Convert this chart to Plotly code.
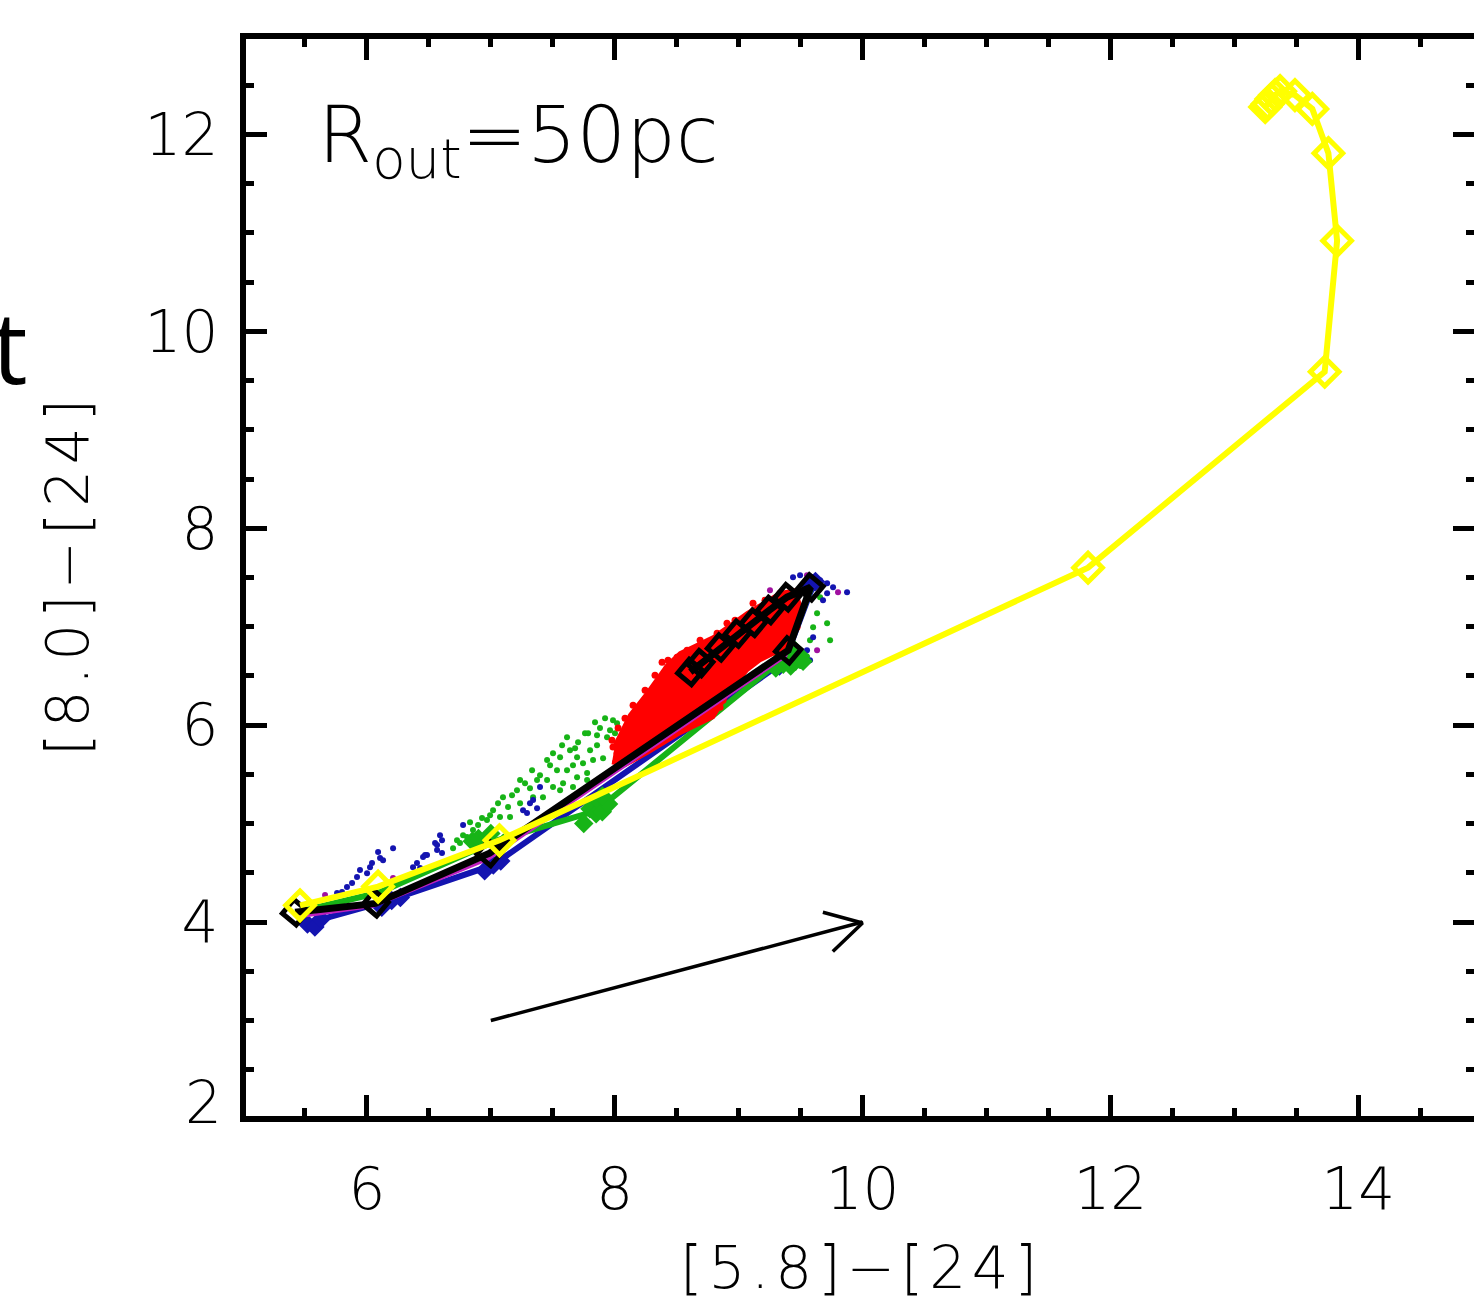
import plotly.graph_objects as go

# ---------------- data ----------------
yellow_x = [5.46, 6.09, 7.07, 11.82, 13.73, 13.83, 13.76, 13.63, 13.49, 13.37, 13.33, 13.30, 13.27, 13.25]
yellow_y = [4.17, 4.36, 4.83, 7.60, 9.59, 10.92, 11.81, 12.26, 12.40, 12.44, 12.40, 12.36, 12.31, 12.28]

black_x = [5.42, 6.07, 6.99, 9.40, 9.58, 9.39, 9.25, 9.12, 8.99, 8.85, 8.69, 8.61]
black_y = [4.10, 4.19, 4.70, 6.76, 7.40, 7.30, 7.17, 7.04, 6.93, 6.79, 6.63, 6.54]

blue_x = [5.55, 6.18, 7.02, 9.37, 9.60]
blue_y = [4.00, 4.22, 4.58, 6.65, 7.42]
blue_mx = [5.52, 5.58, 5.63, 6.12, 6.20, 6.27, 6.95, 7.02, 7.08, 9.33, 9.38, 9.58, 9.62]
blue_my = [3.98, 3.95, 4.03, 4.15, 4.22, 4.25, 4.52, 4.58, 4.62, 6.60, 6.66, 7.42, 7.46]

green_x = [5.50, 6.10, 7.05, 7.85, 9.38, 9.58]
green_y = [4.12, 4.30, 4.83, 5.13, 6.70, 7.38]
green_mx = [6.85, 6.90, 7.00, 7.10, 7.75, 7.80, 7.85, 7.88, 7.90, 7.95, 7.90,
            9.30, 9.36, 9.38, 9.42, 9.45, 9.42, 9.48, 9.35, 9.44, 9.50, 9.52]
green_my = [4.82, 4.85, 4.90, 4.80, 5.00, 5.15, 5.10, 5.22, 5.12, 5.20, 5.28,
            6.58, 6.62, 6.70, 6.60, 6.65, 6.75, 6.68, 6.72, 6.78, 6.70, 6.65]

magenta_x = [5.44, 6.05, 6.98, 9.38, 9.58]
magenta_y = [4.05, 4.16, 4.64, 6.70, 7.38]

green_dot_x = [7.922, 7.986, 8.019, 7.760, 7.785, 7.704, 7.615, 7.857, 7.938, 8.002, 7.639, 7.696,
               7.559, 7.502, 7.454, 7.534, 7.615, 7.663, 7.744, 7.825, 7.906, 7.333, 7.236, 7.211,
               7.316, 7.373, 7.454, 7.502, 7.583, 7.696, 7.777, 7.098, 7.139, 7.074, 7.018, 6.969,
               6.929, 6.856, 6.808, 6.751, 6.695, 7.155, 7.236, 7.341, 7.421, 7.559, 7.663, 7.777,
               7.857, 7.801, 7.680, 7.575, 7.478, 7.397, 7.276, 7.171, 7.058, 6.994, 6.897, 6.832,
               6.776, 6.727, 7.881, 7.962, 7.841,
               9.633, 9.714, 9.601, 9.576, 9.657, 9.738, 9.50, 9.55, 9.45]
green_dot_y = [6.071, 6.051, 6.020, 5.919, 5.919, 5.827, 5.878, 5.898, 5.878, 5.919, 5.746, 5.675,
               5.675, 5.716, 5.645, 5.543, 5.543, 5.594, 5.614, 5.645, 5.665, 5.543, 5.442, 5.340,
               5.360, 5.442, 5.442, 5.371, 5.411, 5.472, 5.513, 5.269, 5.168, 5.066, 5.137, 5.036,
               5.056, 4.935, 4.863, 4.802, 4.751, 5.066, 5.208, 5.269, 5.269, 5.340, 5.371, 5.442,
               5.797, 5.746, 5.766, 5.797, 5.594, 5.492, 5.411, 5.289, 5.208, 5.086, 4.985, 5.015,
               4.883, 4.832, 5.970, 5.949, 6.030,
               7.137, 7.036, 6.995, 6.863, 7.299, 6.863, 6.60, 6.70, 6.58]

blue_dot_x = [6.211, 6.090, 6.106, 6.041, 6.025, 6.001, 5.944, 5.920, 5.880, 5.839, 5.799, 5.759,
              6.130, 6.590, 6.606, 6.550, 6.566, 6.606, 6.485, 6.453, 6.404, 6.372, 6.429, 6.776,
              6.566, 6.469, 7.260, 7.316, 7.341, 7.373, 7.292, 7.397, 9.439, 9.496, 9.601, 9.657,
              9.714, 9.762, 9.875, 9.681, 9.601, 9.552, 9.576, 9.714, 9.633]
blue_dot_y = [4.751, 4.711, 4.650, 4.599, 4.558, 4.497, 4.528, 4.457, 4.396, 4.355, 4.305, 4.294,
              4.629, 4.883, 4.832, 4.802, 4.731, 4.701, 4.680, 4.660, 4.599, 4.558, 4.548, 4.985,
              4.782, 4.680, 5.137, 5.208, 5.239, 5.157, 5.107, 5.371, 7.503, 7.523, 7.503, 7.472,
              7.442, 7.401, 7.350, 7.269, 6.893, 6.761, 6.660, 7.340, 7.442]

purple_dot_x = [9.116, 9.253, 9.552, 9.633, 9.802, 5.662, 6.211]
purple_dot_y = [7.239, 7.371, 7.523, 6.761, 7.350, 4.274, 4.447]

red_cloud_x = [8.002, 8.123, 8.261, 8.422, 8.527, 8.793, 9.068, 9.334, 9.455, 9.496,
               9.415, 9.334, 9.173, 9.068, 8.931, 8.793, 8.527, 8.261, 8.083, 7.978]
red_cloud_y = [5.797, 6.102, 6.325, 6.609, 6.731, 6.893, 7.137, 7.340, 7.371, 7.218,
               6.863, 6.761, 6.660, 6.558, 6.355, 6.081, 5.919, 5.716, 5.594, 5.624]

red_dot_x = [8.430, 8.503, 8.422, 8.584, 8.608, 8.350, 8.390, 8.269, 8.204, 8.148, 8.099, 8.043,
             7.986, 8.019, 8.826, 8.906, 9.116, 9.173, 9.334, 9.439, 9.496, 9.471, 9.415, 9.116,
             8.987, 8.874, 8.850, 8.793, 8.745, 8.608, 8.527, 8.422, 8.309, 8.228, 8.123,
             7.978, 8.027, 8.083, 8.148, 8.245, 8.325, 8.382, 8.689, 8.971, 9.213, 9.455]
red_dot_y = [6.660, 6.690, 6.579, 6.761, 6.731, 6.284, 6.325, 6.152, 6.081, 5.980, 5.919, 5.848,
             5.777, 5.716, 6.934, 7.036, 7.239, 7.198, 7.340, 7.269, 7.137, 6.995, 6.893, 6.690,
             6.589, 6.254, 6.183, 6.122, 6.081, 6.051, 5.980, 5.919, 5.848, 5.777, 5.716,
             5.848, 5.970, 6.071, 6.203, 6.355, 6.508, 6.640, 6.863, 7.066, 7.269, 7.320]

arrow_x = [7.0, 10.0]
arrow_y = [3.0, 4.0]
arrow_head_x = [9.68, 10.0, 9.76]
arrow_head_y = [4.10, 3.99, 3.70]

x_range = [5.024, 14.935]
y_range = [2.03, 12.97]
x_major, x_minor = 2, 0.5
y_major, y_minor = 2, 0.5

HS = "\u200a"  # hair space, widens the spacing like the reference font
label_text = "R<sub>out</sub>=50pc"
x_title = HS.join("[5.8]−[24]")
y_title = HS.join("[8.0]−[24]")

# ---------------- layout geometry ----------------
W, H = 1474, 1307
L, R, T, B = 246, 0, 39, 191
PW, PH = W - L - R, H - T - B


def paper_x(px):
    return (px - L) / PW


def paper_y(py):
    return 1 - (py - T) / PH


FONT = "DejaVu Sans"
BLUE = "#1414b0"
GREEN = "#17b417"
RED = "#ff0000"
PURPLE = "#a010a0"
YELLOW = "#ffff00"
MAGENTA = "#c020c0"

fig = go.Figure()

# scattered dots
fig.add_trace(go.Scatter(x=green_dot_x, y=green_dot_y, mode="markers",
                         marker=dict(color=GREEN, size=6)))
fig.add_trace(go.Scatter(x=blue_dot_x, y=blue_dot_y, mode="markers",
                         marker=dict(color=BLUE, size=6)))
fig.add_trace(go.Scatter(x=purple_dot_x, y=purple_dot_y, mode="markers",
                         marker=dict(color=PURPLE, size=6)))

# blue track
fig.add_trace(go.Scatter(x=blue_x, y=blue_y, mode="lines", line=dict(color=BLUE, width=6)))
fig.add_trace(go.Scatter(x=blue_mx, y=blue_my, mode="markers",
                         marker=dict(color=BLUE, size=15, symbol="diamond")))
# green track
fig.add_trace(go.Scatter(x=green_x, y=green_y, mode="lines", line=dict(color=GREEN, width=6)))
fig.add_trace(go.Scatter(x=green_mx, y=green_my, mode="markers",
                         marker=dict(color=GREEN, size=15, symbol="diamond")))

# red cloud
fig.add_trace(go.Scatter(x=red_cloud_x, y=red_cloud_y, mode="lines", fill="toself",
                         fillcolor=RED, line=dict(color=RED, width=4)))
fig.add_trace(go.Scatter(x=red_dot_x, y=red_dot_y, mode="markers",
                         marker=dict(color=RED, size=7)))

# magenta track
fig.add_trace(go.Scatter(x=magenta_x, y=magenta_y, mode="lines", line=dict(color=MAGENTA, width=3)))

# black track
fig.add_trace(go.Scatter(x=black_x, y=black_y, mode="lines+markers",
                         line=dict(color="black", width=7),
                         marker=dict(symbol="square-open", size=18, angle=40,
                                     color="black", line=dict(color="black", width=5))))

# yellow track
fig.add_trace(go.Scatter(x=yellow_x, y=yellow_y, mode="lines+markers",
                         line=dict(color=YELLOW, width=6),
                         marker=dict(symbol="diamond-open", size=22,
                                     color=YELLOW, line=dict(color=YELLOW, width=5))))

# arrow
fig.add_trace(go.Scatter(x=arrow_x, y=arrow_y, mode="lines", line=dict(color="black", width=3.5)))
fig.add_trace(go.Scatter(x=arrow_head_x, y=arrow_head_y, mode="lines",
                         line=dict(color="black", width=3.5)))

axis_common = dict(
    showgrid=False, zeroline=False, showline=True, linecolor="black", linewidth=6,
    mirror="ticks", ticks="inside", ticklen=21, tickwidth=5, tickcolor="black",
    tickfont=dict(family=FONT, size=58, color="black", weight=300), automargin=False,
)

fig.update_xaxes(range=x_range, tick0=0, dtick=x_major, ticklabelstandoff=17,
                 minor=dict(tick0=0, dtick=x_minor, ticks="inside", ticklen=8, tickwidth=5,
                            tickcolor="black"),
                 **axis_common)
fig.update_yaxes(range=y_range, tick0=0, dtick=y_major, ticklabelstandoff=10,
                 minor=dict(tick0=0, dtick=y_minor, ticks="inside", ticklen=8, tickwidth=5,
                            tickcolor="black"),
                 **axis_common)

tfont = dict(family=FONT, size=58, color="black", weight=300)
annotations = [
    dict(text=label_text, xref="paper", yref="paper", x=paper_x(316), y=paper_y(140),
         xanchor="left", yanchor="middle", showarrow=False,
         font=dict(family=FONT, size=78, color="black", weight=300)),
    dict(text=x_title, xref="paper", yref="paper", x=paper_x(858), y=paper_y(1268),
         xanchor="center", yanchor="middle", showarrow=False, font=tfont),
    dict(text=y_title, xref="paper", yref="paper", x=paper_x(68), y=paper_y(578),
         xanchor="center", yanchor="middle", textangle=-90, showarrow=False, font=tfont),
    dict(text="2", xref="paper", yref="paper", x=paper_x(224), y=paper_y(1103),
         xanchor="right", yanchor="middle", showarrow=False, font=tfont),
    dict(text="t", xref="paper", yref="paper", x=paper_x(30), y=paper_y(345),
         xanchor="right", yanchor="middle", showarrow=False,
         font=dict(family="Open Sans", size=100, color="black")),
]

fig.update_layout(
    width=W, height=H, margin=dict(l=L, r=R, t=T, b=B, pad=0),
    paper_bgcolor="white", plot_bgcolor="white", showlegend=False,
    annotations=annotations,
)

fig.write_html("out.html", config={"displayModeBar": False},
               post_script="document.body.style.margin='0px';")
